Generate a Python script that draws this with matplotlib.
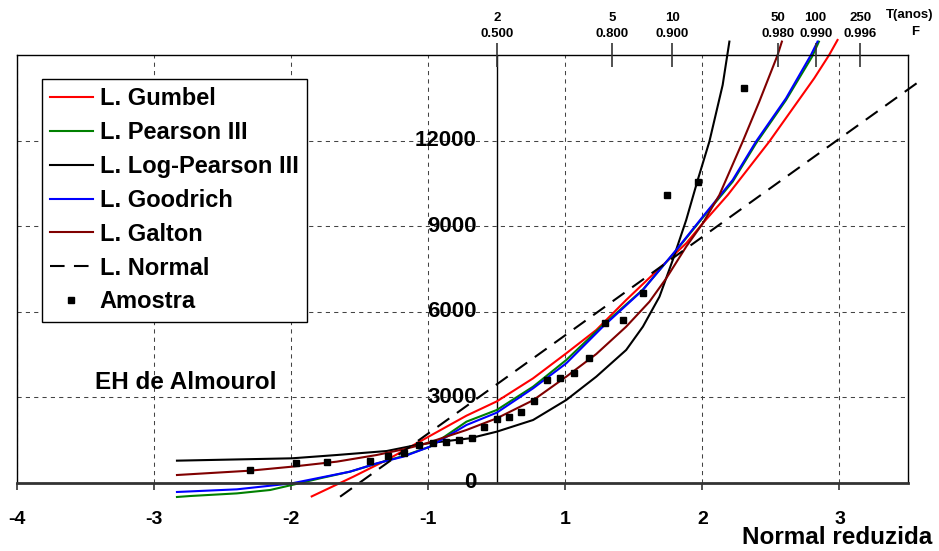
import matplotlib
matplotlib.use("Agg")
import matplotlib.pyplot as plt

plt.rcParams['font.family'] = ['Liberation Sans', 'DejaVu Sans']
plt.rcParams['font.weight'] = 'bold'

# normal reduced variate (z) vs flow
gumbel_z = [-1.35, -1.046, -0.803, -0.585, -0.221, 0.0, 0.265, 0.507, 0.726, 0.944,
            1.187, 1.382, 1.503, 1.685, 1.988, 2.316, 2.425, 2.486]
gumbel_q = [-470, 222, 806, 1390, 2360, 2860, 3668, 4545, 5363, 6414,
            7525, 8401, 9102, 10094, 11966, 14185, 15002, 15527]

pearson_z = [-2.333, -2.236, -1.896, -1.653, -1.495, -1.289, -1.071, -0.828, -0.682, -0.488,
             -0.221, 0.0, 0.265, 0.507, 0.774, 1.066, 1.309, 1.503, 1.721, 1.891, 2.11, 2.30, 2.35]
pearson_q = [-490, -456, -364, -245, -70, 164, 397, 748, 946, 1273,
             2150, 2559, 3376, 4311, 5530, 6780, 8150, 9300, 10560, 11900, 13420, 14940, 15468]

logp_z = [-2.333, -1.495, -1.167, -0.803, -0.585, -0.464, -0.197, 0.0, 0.265, 0.507,
          0.726, 0.944, 1.066, 1.187, 1.284, 1.382, 1.466, 1.551, 1.648, 1.697]
logp_q = [783, 865, 981, 1121, 1332, 1414, 1566, 1799, 2208, 2909,
          3727, 4662, 5479, 6530, 7816, 9218, 10620, 11966, 13950, 15470]

goodrich_z = [-2.333, -1.896, -1.495, -1.289, -1.071, -0.876, -0.682, -0.488, -0.221, 0.0,
              0.265, 0.507, 0.774, 1.066, 1.309, 1.503, 1.721, 1.891, 2.11, 2.292, 2.34]
goodrich_q = [-315, -222, -12, 187, 397, 689, 923, 1273, 2033, 2465,
              3318, 4194, 5479, 6765, 8167, 9335, 10620, 11966, 13482, 15002, 15468]

galton_z = [-2.333, -1.80, -1.495, -1.167, -0.876, -0.682, -0.537, -0.221, 0.0, 0.265, 0.507,
            0.726, 0.944, 1.114, 1.236, 1.382, 1.503, 1.624, 1.794, 1.915, 2.049, 2.08]
galton_q = [280, 432, 572, 748, 981, 1180, 1355, 1858, 2267, 2900, 3727,
            4520, 5479, 6355, 7170, 8283, 9102, 10094, 11966, 13365, 15002, 15470]

normal_z = [-1.143, 3.08]
normal_q = [-480, 14067]

sample_z = [-1.80, -1.464, -1.24, -0.925, -0.79, -0.675, -0.566, -0.464, -0.371, -0.274,
            -0.179, -0.092, 0.002, 0.09, 0.177, 0.272, 0.366, 0.461, 0.563, 0.672,
            0.79, 0.92, 1.066, 1.243, 1.466, 1.80]
sample_q = [456, 690, 725, 783, 946, 1062, 1332, 1390, 1440, 1507,
            1575, 1975, 2235, 2310, 2478, 2880, 3610, 3691, 3844, 4370,
            5597, 5700, 6649, 10090, 10550, 13850]

# axis ticks
x_ticks = [-3.5, -2.5, -1.5, -0.5, 0.5, 1.5, 2.5]
x_labels = ['-4', '-3', '-2', '-1', '1', '2', '3']
y_ticks = [0, 3000, 6000, 9000, 12000]
top_z = [0.0, 0.8416, 1.2816, 2.0537, 2.3263, 2.6521]
top_T = ['2', '5', '10', '50', '100', '250']
top_F = ['0.500', '0.800', '0.900', '0.980', '0.990', '0.996']

fig = plt.figure(figsize=(9.39, 5.51), dpi=100)
ax = fig.add_axes([17/939, 68/551, 891/939, 428/551])
ax.set_xlim(-3.5, 3.0)
ax.set_ylim(0, 15000)

# grid
ax.set_xticks(x_ticks)
ax.set_xticklabels(x_labels, fontsize=14)
ax.set_yticks(y_ticks)
ax.set_yticklabels([])
ax.grid(True, color='#444444', linestyle=(0, (4, 4)), linewidth=0.75)
ax.tick_params(axis='y', length=0)
ax.tick_params(axis='x', direction='out', length=5, width=1.2, color='#333333', pad=15)
for side in ['left', 'top', 'right']:
    ax.spines[side].set_color('black')
    ax.spines[side].set_linewidth(1)
ax.spines['bottom'].set_color('#333333')
ax.spines['bottom'].set_linewidth(2)

# y axis at z = 0
ax.axvline(0, color='black', linewidth=1)
for v in y_ticks:
    ax.annotate(str(v), xy=(0, v), xytext=(-20, 0), textcoords='offset pixels',
                ha='right', va='center', fontsize=16)

# curves
kw = dict(linewidth=1.5, clip_on=False)
ax.plot(gumbel_z, gumbel_q, color='#ff0000', label='L. Gumbel', **kw)
ax.plot(pearson_z, pearson_q, color='#008000', label='L. Pearson III', **kw)
ax.plot(logp_z, logp_q, color='black', label='L. Log-Pearson III', **kw)
ax.plot(goodrich_z, goodrich_q, color='#0000ff', label='L. Goodrich', **kw)
ax.plot(galton_z, galton_q, color='#800000', label='L. Galton', **kw)
ax.plot(normal_z, normal_q, color='black', dashes=(7, 4.5), linewidth=1.5,
        clip_on=False, label='L. Normal')
ax.plot(sample_z, sample_q, 's', color='black', markersize=4.3, clip_on=False,
        label='Amostra', zorder=5)

leg = ax.legend(loc='upper left', bbox_to_anchor=(0.028, 0.944), fontsize=17,
                frameon=True, fancybox=False, framealpha=1, edgecolor='black',
                handlelength=1.8, handletextpad=0.3, labelspacing=0.46,
                borderpad=0.35, borderaxespad=0)
leg.get_frame().set_linewidth(1)

ax.text(-2.928, 3505, 'EH de Almourol', fontsize=17.5, ha='left', va='center')

# top axis: return period and non-exceedance probability
ax2 = ax.twiny()
ax2.set_xlim(ax.get_xlim())
ax2.set_xticks(top_z)
ax2.set_xticklabels([t + '\n' + f for t, f in zip(top_T, top_F)], fontsize=9.5,
                    linespacing=1.45)
ax2.tick_params(axis='x', direction='inout', length=17, width=1.2, color='#333333', pad=2)
for s in ax2.spines.values():
    s.set_visible(False)
ax2.xaxis.get_major_ticks()[-1].tick2line.set_color('#777777')

fig.text(910/939, 1 - 15/551, 'T(anos)', fontsize=9.5, ha='center', va='center')
fig.text(915/939, 1 - 32/551, 'F', fontsize=9.5, ha='center', va='center')
fig.text(932/939, 1 - 538/551, 'Normal reduzida', fontsize=17.5, ha='right', va='center')

fig.savefig('out.png', dpi=100)
